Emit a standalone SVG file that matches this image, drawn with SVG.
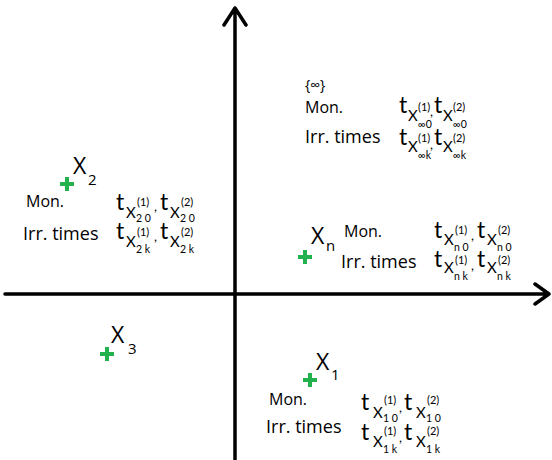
<svg xmlns="http://www.w3.org/2000/svg" width="552" height="460" viewBox="0 0 552 460">
<style>
text{font-family:"Open Sans","Liberation Sans",sans-serif;fill:#000}
.lbl{font-size:16px}
.irr{font-size:18px}
.big{font-size:23px}
.bsub{font-size:15px}
.t,.X,.sp,.sb,.cm{font-family:Lato,"Open Sans",sans-serif}
.t{font-size:23px}
.X{font-size:15px}
.sp{font-size:11px}
.sb{font-size:10.5px}
.cm{font-size:13px}
.plus{stroke:#22b14c;stroke-width:4;fill:none}
.axis{stroke:#000;stroke-width:3.5;fill:none;stroke-linecap:round;stroke-linejoin:round}
</style>
<defs>
<path id="pl" class="plus" d="M-7 0H7M0 -7V7"/>
</defs>
<g id="axes">
<path class="axis" d="M235 460V8M224 25L235 8L246 25"/>
<path class="axis" d="M5 294H549M535 284L549 294L535 304"/>
</g>
<g id="xinf">
<text x="305" y="90" style="font-size:14px">{∞}</text>
<text class="lbl" x="305" y="113">Mon.</text>
<text class="irr" x="305" y="143">Irr. times</text>
<text class="t" x="399" y="113">t</text><text class="X" x="408" y="121">X</text><text class="sp" x="418" y="111">(1)</text><text class="sb" x="418" y="128">∞0</text><text class="cm" x="430" y="116">,</text>
<text class="t" x="434" y="113">t</text><text class="X" x="443" y="121">X</text><text class="sp" x="453" y="111">(2)</text><text class="sb" x="453" y="128">∞0</text>
<text class="t" x="399" y="145">t</text><text class="X" x="408" y="152">X</text><text class="sp" x="418" y="142">(1)</text><text class="sb" x="418" y="159">∞k</text><text class="cm" x="430" y="149">,</text>
<text class="t" x="434" y="145">t</text><text class="X" x="443" y="152">X</text><text class="sp" x="453" y="142">(2)</text><text class="sb" x="453" y="159">∞k</text>
</g>
<g id="x2">
<use href="#pl" x="67" y="184"/>
<text class="big" x="73" y="174">X</text><text class="bsub" x="88" y="185">2</text>
<text class="lbl" x="26" y="207">Mon.</text>
<text class="irr" x="23" y="240">Irr. times</text>
<text class="t" x="116" y="210">t</text><text class="X" x="126" y="218">X</text><text class="sp" x="137" y="206">(1)</text><text class="sb" x="136" y="222">2 0</text><text class="cm" x="154" y="211">,</text>
<text class="t" x="160" y="210">t</text><text class="X" x="170" y="218">X</text><text class="sp" x="181" y="206">(2)</text><text class="sb" x="180" y="222">2 0</text>
<text class="t" x="116" y="239">t</text><text class="X" x="126" y="247">X</text><text class="sp" x="137" y="236">(1)</text><text class="sb" x="136" y="253">2 k</text><text class="cm" x="154" y="241">,</text>
<text class="t" x="160" y="239">t</text><text class="X" x="170" y="247">X</text><text class="sp" x="181" y="236">(2)</text><text class="sb" x="180" y="253">2 k</text>
</g>
<g id="xn">
<use href="#pl" x="305" y="257"/>
<text class="big" x="311" y="244">X</text><text class="bsub" x="326" y="251">n</text>
<text class="lbl" x="344" y="237">Mon.</text>
<text class="irr" x="341" y="268">Irr. times</text>
<text class="t" x="434" y="238">t</text><text class="X" x="444" y="245">X</text><text class="sp" x="455" y="234">(1)</text><text class="sb" x="454" y="251">n 0</text><text class="cm" x="471" y="240">,</text>
<text class="t" x="477" y="238">t</text><text class="X" x="487" y="245">X</text><text class="sp" x="498" y="234">(2)</text><text class="sb" x="497" y="251">n 0</text>
<text class="t" x="434" y="267">t</text><text class="X" x="444" y="273">X</text><text class="sp" x="455" y="264">(1)</text><text class="sb" x="454" y="280">n k</text><text class="cm" x="471" y="270">,</text>
<text class="t" x="477" y="267">t</text><text class="X" x="487" y="273">X</text><text class="sp" x="498" y="264">(2)</text><text class="sb" x="497" y="280">n k</text>
</g>
<g id="x3">
<use href="#pl" x="107" y="354"/>
<text class="big" x="111" y="343">X</text><text class="bsub" x="128" y="354">3</text>
</g>
<g id="x1">
<use href="#pl" x="310" y="380"/>
<text class="big" x="316" y="370">X</text><text class="bsub" x="331" y="380">1</text>
<text class="lbl" x="269" y="405">Mon.</text>
<text class="irr" x="266" y="433">Irr. times</text>
<text class="t" x="361" y="410">t</text><text class="X" x="373" y="418">X</text><text class="sp" x="384" y="404">(1)</text><text class="sb" x="383" y="422">1 0</text><text class="cm" x="399" y="412">,</text>
<text class="t" x="404" y="410">t</text><text class="X" x="416" y="418">X</text><text class="sp" x="427" y="404">(2)</text><text class="sb" x="426" y="422">1 0</text>
<text class="t" x="361" y="440">t</text><text class="X" x="373" y="447">X</text><text class="sp" x="384" y="435">(1)</text><text class="sb" x="383" y="453">1 k</text><text class="cm" x="399" y="442">,</text>
<text class="t" x="404" y="440">t</text><text class="X" x="416" y="447">X</text><text class="sp" x="427" y="435">(2)</text><text class="sb" x="426" y="453">1 k</text>
</g>
</svg>
